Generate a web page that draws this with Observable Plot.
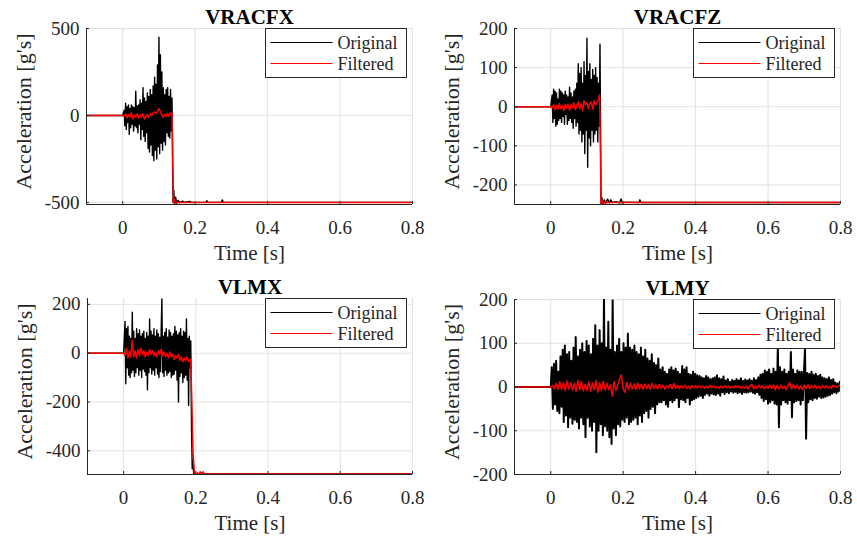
<!DOCTYPE html>
<html><head><meta charset="utf-8">
<script src="https://cdn.jsdelivr.net/npm/d3@7"></script>
<script src="https://cdn.jsdelivr.net/npm/@observablehq/plot@0.6"></script>
<style>
html,body{margin:0;padding:0;background:#fff;}
#chart{position:relative;width:857px;height:540px;overflow:hidden;background:#fff;font-family:"Liberation Serif",serif;}
</style></head><body><div id="chart"></div>
<script>
const FONT = "Liberation Serif";
const seriesNames = ["Original", "Filtered"];
const seriesColors = ["#000000", "#ff0000"];
const panelTitles = ["VRACFX", "VRACFZ", "VLMX", "VLMY"];
const xLabel = "Time [s]";
const yLabel = "Acceleration [g's]";
const xTicks = [0, 0.2, 0.4, 0.6, 0.8];
const xTickLabels = ["0", "0.2", "0.4", "0.6", "0.8"];
const timeStart = -0.1, timeEnd = 0.8;

// ---- VRACFX ----
const vracfxYTicks = [-500, 0, 500];
const vracfxYTickLabels = ["-500", "0", "500"];
const vracfxOrigStart = 0.004, vracfxOrigStep = 0.002;
const vracfxOrigNoise = [
  30, -60, 70, -80, 50, -40, 60, -110, 40, -70,
  60, -50, 50, -90, 45, -60, 140, -70, 55, -100,
  60, -50, 90, -140, 70, -80, 160, -120, 100, -150,
  80, -100, 130, -190, 110, -210, 150, -170, 120, -230,
  170, -260, 220, -200, 180, -250, 290, -180, 450, -220,
  350, -160, 250, -200, 160, -150, 120, -170, 150, -100,
  160, -120, 110, -130, 150, -90
];
const vracfxOrigTailT = [0.136, 0.137, 0.138, 0.139, 0.141, 0.143, 0.146, 0.149, 0.153, 0.158, 0.165, 0.170, 0.185, 0.190, 0.230, 0.232, 0.235, 0.272, 0.275, 0.278, 0.8];
const vracfxOrigTailV = [100, -60, -350, -500, -430, -510, -470, -505, -488, -502, -492, -500, -494, -500, -500, -490, -500, -500, -486, -500, -500];
const vracfxFiltStart = 0.004, vracfxFiltStep = 0.004;
const vracfxFiltNoise = [
  -5, 10, -15, 5, -10, 15, -20, 0, -10, 10,
  -15, 5, -10, 10, -20, -5, 5, -10, 10, 0,
  15, 20, 10, 25, 40, 20, 5, -10, 5, -5,
  10, -5, 15, 10
];
const vracfxFiltTailT = [0.138, 0.140, 0.142, 0.145, 0.150, 0.155, 0.160, 0.8];
const vracfxFiltTailV = [-250, -500, -480, -503, -497, -501, -500, -500];

// ---- VRACFZ ----
const vracfzYTicks = [-200, -100, 0, 100, 200];
const vracfzYTickLabels = ["-200", "-100", "0", "100", "200"];
const vracfzOrigStart = 0.004, vracfzOrigStep = 0.002;
const vracfzOrigNoise = [
  30, -40, 45, -30, 40, -50, 35, -45, 20, -35,
  45, -30, 40, -40, 35, -25, 30, -45, 40, -20,
  30, -45, 25, -35, 50, -30, 35, -40, 25, -55,
  40, -30, 45, -50, 60, -40, 110, -70, 85, -60,
  100, -90, 60, -70, 115, -120, 80, -60, 175, -155,
  90, -80, 110, -100, 70, -60, 95, -90, 80, -70,
  100, -60, 75, -90, 60, -50, 160
];
const vracfzOrigTailT = [0.138, 0.139, 0.141, 0.144, 0.148, 0.152, 0.157, 0.162, 0.166, 0.170, 0.180, 0.190, 0.194, 0.198, 0.205, 0.244, 0.246, 0.249, 0.8];
const vracfzOrigTailV = [-120, -250, -232, -248, -238, -247, -236, -246, -238, -245, -243, -246, -236, -246, -244, -245, -238, -245, -245];
const vracfzFiltStart = 0.004, vracfzFiltStep = 0.004;
const vracfzFiltNoise = [
  -3, 5, -8, 4, -6, 8, -5, 3, -10, 6,
  -4, 7, -9, 5, -3, 10, -8, 4, 12, -5,
  8, -10, 15, 5, 10, -5, 8, 12, -6, 15,
  5, 10, 20
];
const vracfzFiltTailT = [0.135, 0.137, 0.139, 0.142, 0.146, 0.150, 0.160, 0.8];
const vracfzFiltTailV = [30, -100, -250, -240, -247, -244, -245, -245];

// ---- VLMX ----
const vlmxYTicks = [-400, -200, 0, 200];
const vlmxYTickLabels = ["-400", "-200", "0", "200"];
const vlmxOrigStart = 0.004, vlmxOrigStep = 0.002;
const vlmxOrigNoise = [
  130, -125, 100, -60, 110, -90, 70, -100, 60, -80,
  168, -70, 90, -95, 60, -80, 100, -60, 80, -90,
  95, -70, 70, -100, 80, -65, 90, -75, 60, -90,
  85, -150, 70, -80, 140, -60, 90, -85, 75, -70,
  100, -90, 70, -60, 95, -85, 80, -100, 65, -75,
  90, 222, -80, 70, -95, 85, -70, 100, -90, 65,
  -80, 95, -75, 85, -100, 70, -90, 80, -85, 110,
  -70, 90, -110, 75, -200, 85, -95, 100, -80, 70,
  -120, 90, -100, 85, -90, 140, -110, 60, -214, 70,
  -60, 50
];
const vlmxOrigTailT = [0.188, 0.190, 0.192, 0.194, 0.8];
const vlmxOrigTailV = [-300, -473, -440, -495, -495];
const vlmxFiltStart = 0.004, vlmxFiltStep = 0.004;
const vlmxFiltNoise = [
  -10, 20, -20, 10, -15, 52, -15, 10, -20, 15,
  -10, 20, -5, 10, -15, 5, -10, 15, -5, 10,
  -10, 5, -15, 10, -5, 15, -10, 5, -15, 0,
  -20, 5, -15, -5, -25, -10, -20, -5, -30, -15,
  -35, -20, -30, -15, -35, -25
];
const vlmxFiltTailT = [0.186, 0.189, 0.192, 0.196, 0.200, 0.204, 0.208, 0.212, 0.216, 0.220, 0.224, 0.8];
const vlmxFiltTailV = [-30, -200, -400, -490, -505, -490, -498, -486, -494, -486, -495, -495];

// ---- VLMY ----
const vlmyYTicks = [-200, -100, 0, 100, 200];
const vlmyYTickLabels = ["-200", "-100", "0", "100", "200"];
const vlmyOrigStart = 0.003, vlmyOrigStep = 0.003;
const vlmyOrigNoise = [
  45, -50, 53, -40, 60, -55, 35, -60, 70, -45,
  85, -80, 95, -65, 75, -92, 80, -70, 60, -84,
  90, -75, 114, -80, 70, -95, 85, -70, 100, -85,
  80, -115, 105, -70, 95, -90, 75, -100, 110, -80,
  141, -149, 95, -100, 130, -85, 100, -110, 200, -90,
  90, -100, 149, -115, 85, -130, 198, -95, 80, -110,
  95, -85, 110, -90, 80, -75, 100, -80, 90, -70,
  122, -85, 90, -80, 85, -75, 95, -70, 80, -85,
  75, -65, 90, -80, 70, -60, 85, -55, 65, -70,
  60, -50, 75, -45, 55, -60, 50, -40, 65, -35,
  40, -35, 45, -30, 35, -40, 30, -45, 40, -30,
  45, -35, 38, -30, 42, -25, 35, -46, 30, -28,
  48, -30, 40, -35, 45, -25, 30, -40, 28, -30,
  35, -28, 30, -25, 27, -22, 25, -20, 22, -25,
  20, -18, 25, -15, 22, -20, 18, -15, 20, -17,
  22, -18, 27, -15, 20, -20, 18, -12, 24, -16,
  15, -12, 18, -14, 12, -10, 16, -13, 14, -11,
  18, -14, 15, -12, 20, -16, 14, -12, 17, -13,
  15, -12, 18, -10, 14, -13, 20, -15, 16, -12,
  22, -18, 28, -25, 30, -32, 38, -28, 35, -38,
  40, -35, 30, -30, 42, -38, 35, -40, 92, -92,
  45, -40, 35, -30, 40, -35, 30, -38, 35, -30,
  80, -69, 40, -35, 30, -32, 38, -30, 35, -40,
  35, -30, 30, 88, -118, 32, -35, 30, -28, 35,
  -30, 28, -25, 30, -27, 25, -22, 28, -25, 22,
  -24, 20, -22, 18, -20, 22, -18, 16, -15, 18,
  -12, 10, -14, 8, -10, 12
];
const vlmyOrigTailT = [0.8];
const vlmyOrigTailV = [0];
const vlmyFiltStart = 0.005, vlmyFiltStep = 0.005;
const vlmyFiltNoise = [
  3, -4, 8, -5, 12, -6, 10, -8, 14, -5,
  10, -7, 8, -10, 15, -6, 12, -9, 6, -8,
  12, -10, 9, -6, 15, -12, 10, -8, 13, -7,
  8, -6, 5, -21, 12, -8, 5, 18, 28, -5,
  -12, 10, -6, 8, -5, 7, -6, 9, -4, 6,
  -5, 7, -4, 6, -5, 8, -3, 5, -4, 6,
  -3, 4, -5, 3, -2, 6, -4, 8, -3, 4,
  -4, 3, -2, 4, -3, 2, -4, 3, -2, 3,
  -2, 3, -1, 2, -3, 2, -2, 4, -1, 2,
  -2, 1, -3, 2, -2, 3, -1, 2, -2, 1,
  -2, 3, -1, 2, -2, 1, -3, 2, -5, 3,
  6, -4, 2, -3, 4, -2, 3, -4, 2, -3,
  4, -3, 5, -6, 3, -5, 4, -3, 2, -6,
  3, 10, -4, 5, -3, 4, -5, 3, -6, 4,
  -3, 5, -4, 3, -2, 4, -3, 2, -4, 3,
  -2, 3, -2, 1, -3, 4, 2, -1, 3, 5
];
const vlmyFiltTailT = [];
const vlmyFiltTailV = [];

function series(start, step, noise, tailT, tailV) {
  const pts = [{t: timeStart, v: 0}, {t: 0, v: 0}];
  noise.forEach((v, i) => pts.push({t: start + i * step, v}));
  tailT.forEach((t, i) => pts.push({t, v: tailV[i]}));
  return pts;
}

const panels = [
  {title: panelTitles[0], yDomain: [-512, 500], yTicks: vracfxYTicks, yTickLabels: vracfxYTickLabels,
   orig: series(vracfxOrigStart, vracfxOrigStep, vracfxOrigNoise, vracfxOrigTailT, vracfxOrigTailV),
   filt: series(vracfxFiltStart, vracfxFiltStep, vracfxFiltNoise, vracfxFiltTailT, vracfxFiltTailV),
   left: 0, top: 0, width: 428, mL: 86, mR: 16, mT: 28, mB: 66, ow: 1.4},
  {title: panelTitles[1], yDomain: [-250, 200], yTicks: vracfzYTicks, yTickLabels: vracfzYTickLabels,
   orig: series(vracfzOrigStart, vracfzOrigStep, vracfzOrigNoise, vracfzOrigTailT, vracfzOrigTailV),
   filt: series(vracfzFiltStart, vracfzFiltStep, vracfzFiltNoise, vracfzFiltTailT, vracfzFiltTailV),
   left: 428, top: 0, width: 429, mL: 86, mR: 17, mT: 28, mB: 66, ow: 1.4},
  {title: panelTitles[2], yDomain: [-497, 224], yTicks: vlmxYTicks, yTickLabels: vlmxYTickLabels,
   orig: series(vlmxOrigStart, vlmxOrigStep, vlmxOrigNoise, vlmxOrigTailT, vlmxOrigTailV),
   filt: series(vlmxFiltStart, vlmxFiltStep, vlmxFiltNoise, vlmxFiltTailT, vlmxFiltTailV),
   left: 0, top: 270, width: 428, mL: 87, mR: 16, mT: 28, mB: 66, ow: 1.4},
  {title: panelTitles[3], yDomain: [-200, 200], yTicks: vlmyYTicks, yTickLabels: vlmyYTickLabels,
   orig: series(vlmyOrigStart, vlmyOrigStep, vlmyOrigNoise, vlmyOrigTailT, vlmyOrigTailV),
   filt: series(vlmyFiltStart, vlmyFiltStep, vlmyFiltNoise, vlmyFiltTailT, vlmyFiltTailV),
   left: 428, top: 270, width: 429, mL: 86, mR: 17, mT: 29, mB: 66, ow: 2}
];

const chart = document.getElementById("chart");
const xMap = new Map(xTicks.map((d, i) => [d, xTickLabels[i]]));
const GRID = "#e2e2e2", AXIS = "#262626";

panels.forEach(p => {
  const yMap = new Map(p.yTicks.map((d, i) => [d, p.yTickLabels[i]]));
  const svg = Plot.plot({
    width: p.width, height: 270,
    marginLeft: p.mL, marginRight: p.mR, marginTop: p.mT, marginBottom: p.mB,
    style: {fontFamily: FONT, fontSize: "19px", color: AXIS, background: "transparent", overflow: "visible"},
    x: {domain: [timeStart, timeEnd]},
    y: {domain: p.yDomain},
    marks: [
      Plot.gridX(xTicks, {stroke: GRID, strokeOpacity: 1}),
      Plot.gridY(p.yTicks, {stroke: GRID, strokeOpacity: 1}),
      Plot.line(p.orig, {x: "t", y: "v", stroke: seriesColors[0], strokeWidth: p.ow, clip: true}),
      Plot.line(p.filt, {x: "t", y: "v", stroke: seriesColors[1], strokeWidth: 1.5, clip: true}),
      Plot.ruleX([timeStart], {stroke: AXIS}),
      Plot.ruleY([p.yDomain[0]], {stroke: AXIS}),
      Plot.axisX(xTicks, {tickSize: 0, tickPadding: 16, tickFormat: d => xMap.get(d), label: null, fontSize: 19, fontFamily: FONT}),
      Plot.axisY(p.yTicks, {tickSize: 0, tickPadding: 7, tickFormat: d => yMap.get(d), label: null, fontSize: 19, fontFamily: FONT}),
      Plot.axisX(xTicks, {tickSize: 3, dy: -3, tickFormat: () => "", label: null, stroke: AXIS}),
      Plot.axisY(p.yTicks, {tickSize: 3, dx: 3, tickFormat: () => "", label: null, stroke: AXIS}),
      Plot.text([p.title], {frameAnchor: "top", lineAnchor: "middle", textAnchor: "middle", dy: -11, fontSize: 21, fontWeight: "bold", fill: "#000", fontFamily: FONT}),
      Plot.text([xLabel], {frameAnchor: "bottom", lineAnchor: "middle", textAnchor: "middle", dy: 49, fontSize: 21, fill: AXIS, fontFamily: FONT}),
      Plot.text([yLabel], {frameAnchor: "left", lineAnchor: "middle", textAnchor: "middle", rotate: -90, dx: -63, dy: -5, fontSize: 22, fill: AXIS, fontFamily: FONT})
    ]
  });
  svg.style.position = "absolute";
  svg.style.left = p.left + "px";
  svg.style.top = p.top + "px";
  svg.style.maxWidth = "none";
  const g = d3.select(svg).append("g");
  const bw = 141, bh = 49;
  const bx = p.width - p.mR - 6 - bw + 0.5, by = p.mT + 0.5;
  g.append("rect").attr("x", bx).attr("y", by).attr("width", bw).attr("height", bh)
    .attr("fill", "#fff").attr("stroke", AXIS).attr("stroke-width", 1);
  seriesNames.forEach((name, i) => {
    const ly = by + 14 + i * 21;
    g.append("line").attr("x1", bx + 5).attr("x2", bx + 67).attr("y1", ly).attr("y2", ly)
      .attr("stroke", seriesColors[i]).attr("stroke-width", 1);
    g.append("text").attr("x", bx + 72).attr("y", ly + 6).attr("font-size", 18)
      .attr("text-anchor", "start").attr("font-family", FONT).attr("fill", AXIS).text(name);
  });
  chart.appendChild(svg);
});
</script></body></html>
